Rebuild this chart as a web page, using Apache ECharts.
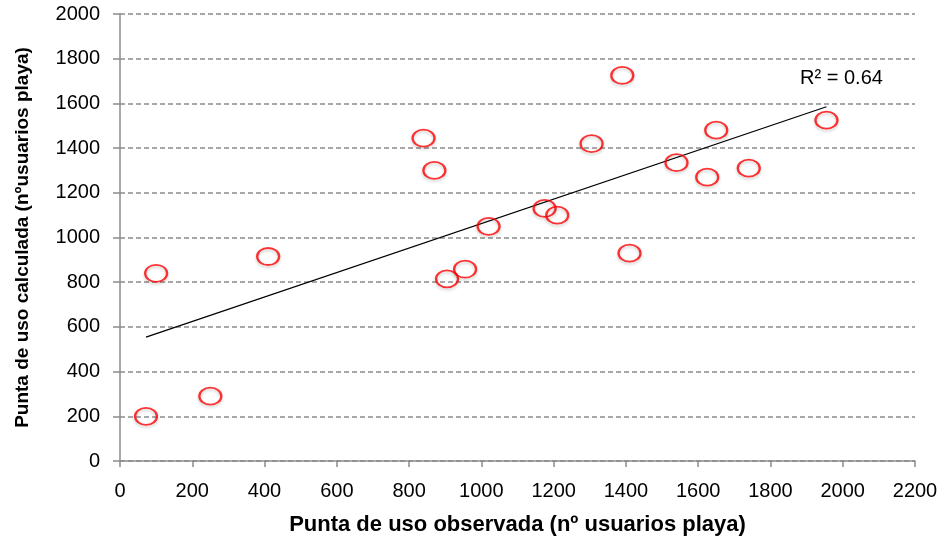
<!DOCTYPE html>
<html>
<head>
<meta charset="utf-8">
<script src="https://cdn.jsdelivr.net/npm/echarts@6/dist/echarts.min.js"></script>
<style>html,body{margin:0;padding:0;background:#fff}#c{width:940px;height:539px}</style>
</head>
<body>
<div id="c"></div>
<script>
var observed = [72, 250, 100, 410, 840, 870, 905, 955, 1020, 1175, 1210, 1305, 1390, 1410, 1540, 1625, 1650, 1740, 1955];
var calculated = [200, 290, 840, 915, 1445, 1300, 815, 858, 1050, 1130, 1100, 1420, 1725, 930, 1335, 1270, 1480, 1310, 1525];
var trendX = [72, 1955];
var trendY = [554, 1585];
var r2Label = 'R² = 0.64';
var xTitle = 'Punta de uso observada (nº usuarios playa)';
var yTitle = 'Punta de uso calculada (nºusuarios playa)';

var pts = observed.map(function (x, i) { return [x, calculated[i]]; });
var trend = trendX.map(function (x, i) { return [x, trendY[i]]; });

var chart = echarts.init(document.getElementById('c'));
var font = 'Liberation Sans, Arial, sans-serif';
chart.setOption({
  animation: false,
  grid: { left: 120, right: 25, top: 14, bottom: 78, containLabel: false, outerBoundsMode: 'none' },
  xAxis: {
    type: 'value', min: 0, max: 2200, interval: 200,
    name: xTitle, nameLocation: 'middle', nameGap: 53,
    nameTextStyle: { fontFamily: font, fontWeight: 'bold', fontSize: 22, color: '#000' },
    axisLine: { show: true, lineStyle: { color: '#8c8c8c', width: 1.5 } },
    axisTick: { show: true, length: 6, lineStyle: { color: '#8c8c8c', width: 1.5 } },
    axisLabel: { fontFamily: font, fontSize: 20, color: '#000', margin: 20, formatter: function (v) { return String(v); } },
    splitLine: { show: false }
  },
  yAxis: {
    type: 'value', min: 0, max: 2000, interval: 200,
    name: yTitle, nameLocation: 'middle', nameGap: 88,
    nameTextStyle: { fontFamily: font, fontWeight: 'bold', fontSize: 19, color: '#000' },
    axisLine: { show: true, lineStyle: { color: '#8c8c8c', width: 1.5 } },
    axisTick: { show: true, length: 7, lineStyle: { color: '#8c8c8c', width: 1.5 } },
    axisLabel: { fontFamily: font, fontSize: 20, color: '#000', margin: 20, formatter: function (v) { return String(v); } },
    splitLine: { show: true, lineStyle: { color: '#8c8c8c', type: [5, 3], width: 1.5 } }
  },
  series: [
    {
      type: 'line', data: trend, symbol: 'none', silent: true,
      lineStyle: { color: '#000', width: 1.3 },
      z: 2,
      markPoint: {
        symbol: 'rect', symbolSize: 1,
        itemStyle: { color: 'transparent' },
        label: { show: true, formatter: r2Label, fontFamily: font, fontSize: 20, color: '#000', position: 'inside', offset: [15, -28] },
        data: [{ coord: trend[1] }]
      }
    },
    {
      type: 'scatter', data: pts, symbol: 'circle', symbolSize: [22, 17],
      itemStyle: { color: 'rgba(255,255,255,0)', borderColor: '#ff0000', borderWidth: 2,
        shadowColor: 'rgba(0,0,0,0.25)', shadowBlur: 3, shadowOffsetY: 2 },
      z: 3
    }
  ]
});
</script>
</body>
</html>
